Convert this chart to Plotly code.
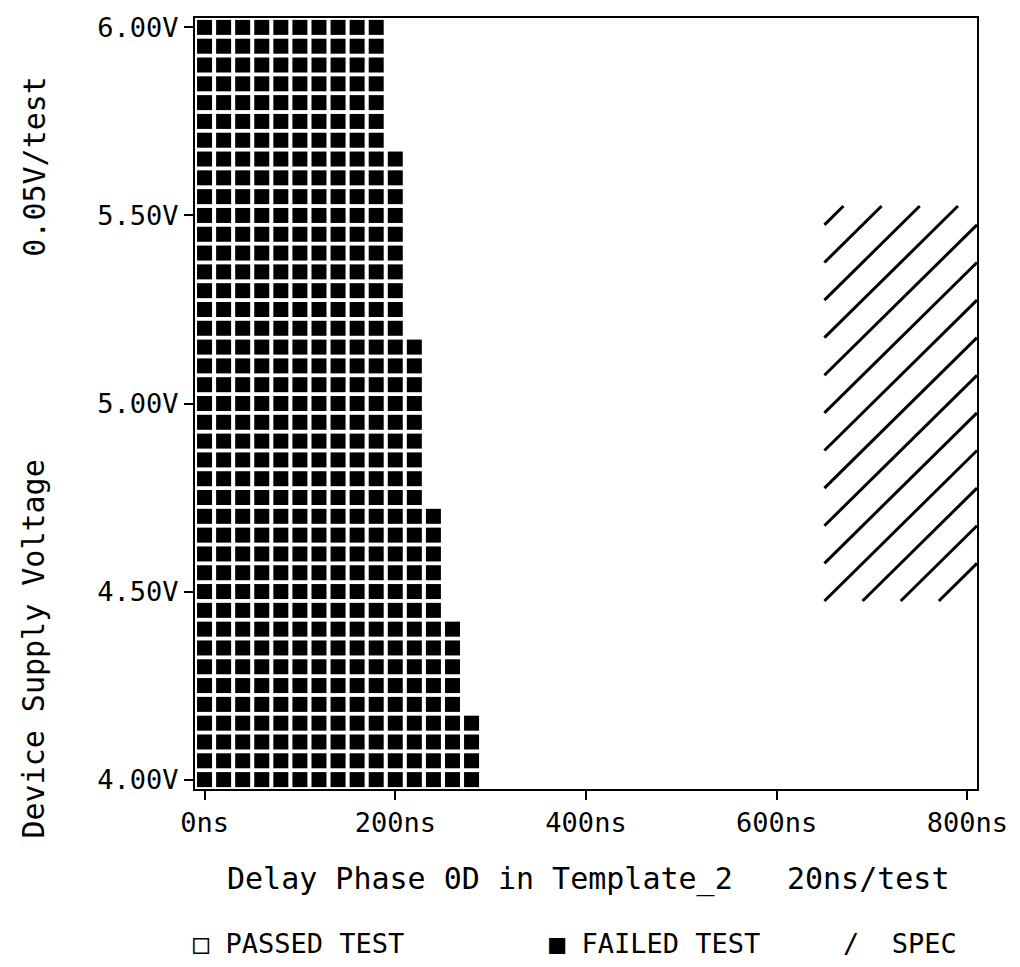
import plotly.graph_objects as go

# ---------------- data ----------------
# test grid: delay (ns), 20 ns/test ; supply voltage (V), 0.05 V/test
delays_ns = [0, 20, 40, 60, 80, 100, 120, 140, 160, 180, 200, 220, 240, 260, 280,
             300, 320, 340, 360, 380, 400, 420, 440, 460, 480, 500, 520, 540, 560,
             580, 600, 620, 640, 660, 680, 700, 720, 740, 760, 780, 800]
voltages_v = [4.00, 4.05, 4.10, 4.15, 4.20, 4.25, 4.30, 4.35, 4.40, 4.45, 4.50,
              4.55, 4.60, 4.65, 4.70, 4.75, 4.80, 4.85, 4.90, 4.95, 5.00, 5.05,
              5.10, 5.15, 5.20, 5.25, 5.30, 5.35, 5.40, 5.45, 5.50, 5.55, 5.60,
              5.65, 5.70, 5.75, 5.80, 5.85, 5.90, 5.95, 6.00]
# largest delay that FAILED at each voltage (all delays up to it failed)
fail_limit_ns = [280, 280, 280, 280,
                 260, 260, 260, 260, 260,
                 240, 240, 240, 240, 240, 240,
                 220, 220, 220, 220, 220, 220, 220, 220, 220,
                 200, 200, 200, 200, 200, 200, 200, 200, 200, 200,
                 180, 180, 180, 180, 180, 180, 180]
# specification window (test points)
spec_delay_ns = [660, 800]
spec_voltage_v = [4.50, 5.50]

x_ticks = [0, 200, 400, 600, 800]
x_tick_text = ["0ns", "200ns", "400ns", "600ns", "800ns"]
y_ticks = [4.00, 4.50, 5.00, 5.50, 6.00]
y_tick_text = ["4.00V", "4.50V", "5.00V", "5.50V", "6.00V"]

# ---------------- derived ----------------
step_x = 20
step_y = 0.05
fail_x, fail_y, pass_x, pass_y = [], [], [], []
for v, lim in zip(voltages_v, fail_limit_ns):
    for d in delays_ns:
        if d <= lim:
            fail_x.append(d); fail_y.append(v)
        else:
            pass_x.append(d); pass_y.append(v)

# hatch lines of the spec box (diagonal, every 2 test cells)
xl = spec_delay_ns[0] - step_x / 2
xr = spec_delay_ns[1] + step_x / 2
yb = spec_voltage_v[0] - step_y / 2
yt = spec_voltage_v[1] + step_y / 2
W = round((xr - xl) / step_x)
H = round((yt - yb) / step_y)
hx, hy = [], []
c = H - 1
while c > -W:
    u0 = max(0, -c)
    u1 = min(W, H - c)
    hx += [xl + u0 * step_x, xl + u1 * step_x, None]
    hy += [yb + (u0 + c) * step_y, yb + (u1 + c) * step_y, None]
    c -= 2

FONT = "DejaVu Sans Mono"

fig = go.Figure()
fig.add_trace(go.Scatter(x=hx, y=hy, mode="lines", name="SPEC",
                         line=dict(color="black", width=3), showlegend=False,
                         hoverinfo="skip"))
fig.add_trace(go.Scatter(x=fail_x, y=fail_y, mode="markers", name="FAILED TEST",
                         marker=dict(symbol="square", size=15, color="black",
                                     line=dict(width=0)),
                         showlegend=False))

L, R, T, B = 195, 35, 13, 178
WIDTH, HEIGHT = 1020, 967
plot_h = HEIGHT - T - B
plot_w = WIDTH - L - R


def py2paper(py):
    return (HEIGHT - B - py) / plot_h


def px2paper(px):
    return (px - L) / plot_w


axis_common = dict(showline=True, linecolor="black", linewidth=2, mirror=True,
                   showgrid=False, zeroline=False, ticks="outside", ticklen=9,
                   tickwidth=2, tickcolor="black",
                   tickfont=dict(family=FONT, size=27, color="black"))

fig.update_layout(
    width=WIDTH, height=HEIGHT, autosize=False,
    margin=dict(l=L, r=R, t=T, b=B, pad=0),
    paper_bgcolor="white", plot_bgcolor="white",
    xaxis=dict(range=[-10, 810], tickvals=x_ticks, ticktext=x_tick_text, **axis_common),
    yaxis=dict(range=[3.975, 6.025], tickvals=y_ticks, ticktext=y_tick_text, **axis_common),
    showlegend=False,
)

title_font = dict(family=FONT, size=30, color="black")
legend_font = dict(family=FONT, size=27, color="black")
annotations = [
    dict(text="Delay Phase 0D in Template_2   20ns/test", x=px2paper(592), y=py2paper(880), font=title_font),
    dict(text="Device Supply Voltage", x=px2paper(32), y=py2paper(648), textangle=-90, font=title_font),
    dict(text="0.05V/test", x=px2paper(32), y=py2paper(162), textangle=-90, font=title_font),
    dict(text="\u25a1 PASSED TEST", x=px2paper(300), y=py2paper(945), font=legend_font),
    dict(text="\u25a0 FAILED TEST", x=px2paper(659), y=py2paper(945), font=legend_font),
    dict(text="/  SPEC", x=px2paper(907), y=py2paper(945), font=legend_font),
]
for a in annotations:
    fig.add_annotation(xref="paper", yref="paper", showarrow=False,
                       xanchor="center", yanchor="middle", **a)

fig.write_html("out.html")
